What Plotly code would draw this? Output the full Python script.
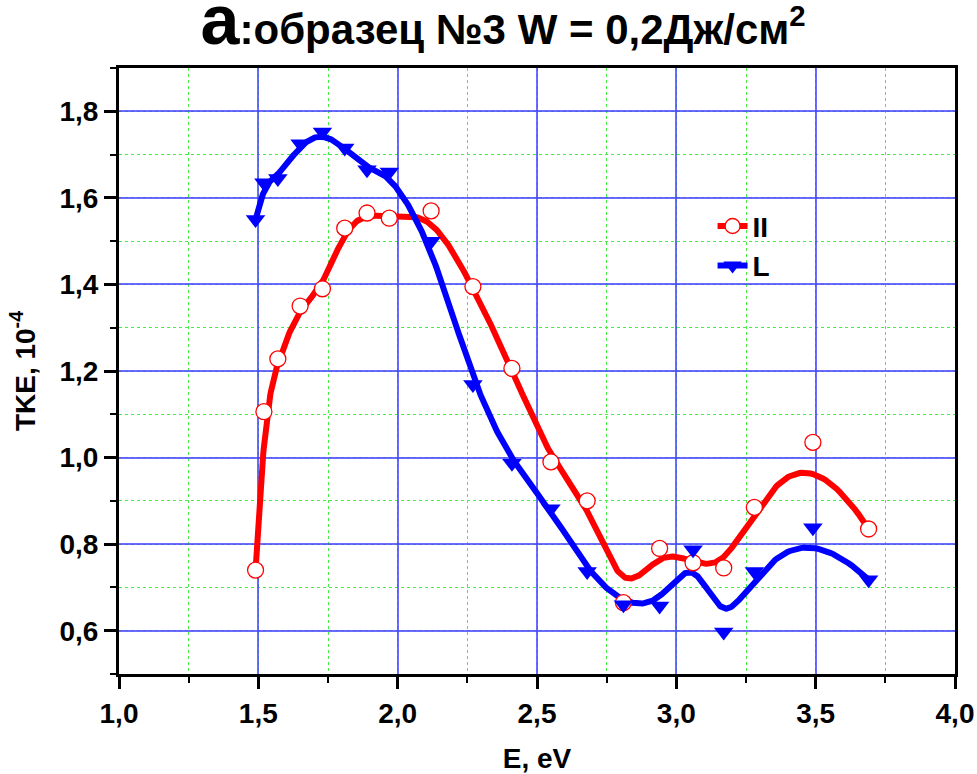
import numpy as np
import plotly.graph_objects as go

# Photon energy, eV
energy = [1.49, 1.52, 1.57, 1.65, 1.73, 1.81, 1.89, 1.97, 2.12, 2.27,
          2.41, 2.55, 2.68, 2.81, 2.94, 3.06, 3.17, 3.28, 3.49, 3.69]

# TKE, 10^-4, for the two polarisations
tke_par = [0.74, 1.106, 1.228, 1.35, 1.39, 1.53, 1.565, 1.553, 1.57, 1.395,
           1.206, 0.99, 0.90, 0.665, 0.79, 0.757, 0.745, 0.885, 1.035, 0.835]
tke_l = [1.55, 1.635, 1.645, 1.725, 1.752, 1.715, 1.665, 1.66, 1.50, 1.169,
         0.987, 0.882, 0.737, 0.66, 0.657, 0.787, 0.597, 0.737, 0.838, 0.718]

x_ticks = [1.0, 1.5, 2.0, 2.5, 3.0, 3.5, 4.0]
y_ticks = [0.6, 0.8, 1.0, 1.2, 1.4, 1.6, 1.8]

RED = "#ff0000"
BLUE = "#0000ff"
FONT = "Liberation Sans, Arial, sans-serif"


def bspline(px, py, degree=3, samples=800):
    """Clamped uniform B-spline using the measured points as control points."""
    pts = np.column_stack([px, py]).astype(float)
    n = len(pts)
    spans = n - degree
    knots = np.concatenate([np.zeros(degree), np.arange(spans + 1),
                            np.full(degree, spans)]).astype(float)
    out = []
    for t in np.linspace(0, spans, samples):
        s = min(int(t), spans - 1) + degree
        d = [pts[j + s - degree].copy() for j in range(degree + 1)]
        for r in range(1, degree + 1):
            for j in range(degree, r - 1, -1):
                i = j + s - degree
                denom = knots[j + 1 + s - r] - knots[i]
                a = 0.0 if denom == 0 else (t - knots[i]) / denom
                d[j] = (1 - a) * d[j - 1] + a * d[j]
        out.append(d[degree])
    out = np.array(out)
    return out[:, 0], out[:, 1]


fig = go.Figure()

cx, cy = bspline(energy, tke_par)
fig.add_trace(go.Scatter(x=cx, y=cy, mode="lines", line=dict(color=RED, width=6),
                         showlegend=False, hoverinfo="skip"))
bx, by = bspline(energy, tke_l)
fig.add_trace(go.Scatter(x=bx, y=by, mode="lines", line=dict(color=BLUE, width=6),
                         showlegend=False, hoverinfo="skip"))

fig.add_trace(go.Scatter(x=energy, y=tke_par, mode="markers", showlegend=False,
                         marker=dict(symbol="circle", size=16, color="white",
                                     line=dict(color=RED, width=1.3))))
fig.add_trace(go.Scatter(x=energy, y=tke_l, mode="markers", showlegend=False,
                         marker=dict(symbol="triangle-down", size=17, color=BLUE,
                                     line=dict(width=0))))

# legend entries
fig.add_trace(go.Scatter(x=[None], y=[None], mode="lines+markers", name="II",
                         line=dict(color=RED, width=6),
                         marker=dict(symbol="circle", size=15, color="white",
                                     line=dict(color=RED, width=1.3))))
fig.add_trace(go.Scatter(x=[None], y=[None], mode="lines+markers", name="L",
                         line=dict(color=BLUE, width=6),
                         marker=dict(symbol="triangle-down", size=17, color=BLUE,
                                     line=dict(width=0))))

axis_common = dict(
    showline=True, linecolor="black", linewidth=3, mirror=True,
    ticks="outside", ticklen=12, tickwidth=2.5, tickcolor="black",
    showgrid=True, gridcolor="rgba(70,70,255,0.8)", gridwidth=1.5,
    zeroline=False, tickformat=".1f", automargin=False,
    tickfont=dict(family=FONT, size=28, color="black", weight="bold"),
)

fig.update_xaxes(
    **axis_common, range=[1.0, 4.0], tickvals=x_ticks, ticklabelstandoff=0,
    minor=dict(dtick=0.25, tick0=1.0, ticks="outside", ticklen=6, tickwidth=2,
               tickcolor="black", showgrid=True, gridcolor="#44ee44",
               griddash="dot", gridwidth=1),
    title=dict(text="<b>E, eV</b>", font=dict(family=FONT, size=28, color="black"),
               standoff=22),
)
fig.update_yaxes(
    **axis_common, range=[0.5, 1.9], tickvals=y_ticks, ticklabelstandoff=0,
    minor=dict(dtick=0.1, tick0=0.5, ticks="outside", ticklen=6, tickwidth=2,
               tickcolor="black", showgrid=True, gridcolor="#44ee44",
               griddash="dot", gridwidth=1),
    title=dict(text="<b>TKE, 10<sup>-4</sup></b>",
               font=dict(family=FONT, size=28, color="black"), standoff=16),
)

fig.update_layout(
    width=977, height=774,
    margin=dict(l=119, r=22, t=68, b=100),
    paper_bgcolor="white", plot_bgcolor="white",
    separators=", ",
    title=dict(
        text="<b><span style='font-size:70px'>а</span>:образец №3 W = 0,2Дж/см<sup>2</sup></b>",
        x=0.515, xanchor="center", y=0.962, yanchor="middle",
        font=dict(family=FONT, size=42, color="black"),
    ),
    legend=dict(
        x=0.71, y=0.78, xanchor="left", yanchor="top",
        bgcolor="rgba(0,0,0,0)", borderwidth=0,
        font=dict(family=FONT, size=28, color="black", weight="bold"),
        tracegroupgap=0,
    ),
    showlegend=True,
)

fig.write_html("out.html")
